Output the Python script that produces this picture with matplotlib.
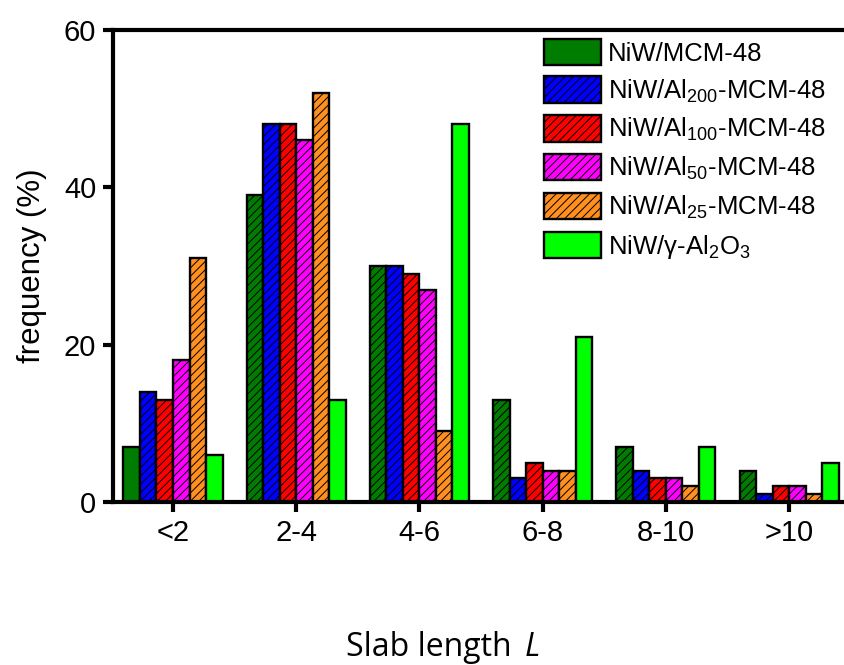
import numpy as np
import matplotlib.pyplot as plt

plt.rcParams['font.family'] = 'Liberation Sans'
plt.rcParams['mathtext.fontset'] = 'custom'
plt.rcParams['mathtext.rm'] = 'Liberation Sans'
plt.rcParams['mathtext.it'] = 'Liberation Sans:italic'
plt.rcParams['hatch.linewidth'] = 0.7

categories = ['<2', '2-4', '4-6', '6-8', '8-10', '>10']
series = ['NiW/MCM-48', 'NiW/Al$_{200}$-MCM-48', 'NiW/Al$_{100}$-MCM-48',
          'NiW/Al$_{50}$-MCM-48', 'NiW/Al$_{25}$-MCM-48', 'NiW/γ-Al$_2$O$_3$']
values = [
    [7, 39, 30, 13, 7, 4],
    [14, 48, 30, 3, 4, 1],
    [13, 48, 29, 5, 3, 2],
    [18, 46, 27, 4, 3, 2],
    [31, 52, 9, 4, 2, 1],
    [6, 13, 48, 21, 7, 5],
]
colors = ['#007c00', '#0000ff', '#ff0000', '#ff00ff', '#ff9020', '#00ff00']
hatches = ['////', '////', '////', '////', '////', None]

fig = plt.figure(figsize=(8.44, 6.65), dpi=100)
ax = fig.add_axes([113 / 844, 163 / 665, 757 / 844, 472 / 665])

x = np.arange(len(categories))
w = 0.134
for i, (name, vals) in enumerate(zip(series, values)):
    bars = ax.bar(x + (i - 2.5) * w, vals, w, color=colors[i], edgecolor='black',
                  linewidth=1.7, hatch=hatches[i], label=name)
    # first green bar in the original is plain
    if i == 0:
        bars[0].set_hatch(None)

handles, labels = ax.get_legend_handles_labels()
leg = ax.legend(handles, labels, loc='upper left', bbox_to_anchor=(0.556, 1.003),
                frameon=False, fontsize=18.5, handlelength=2.2, handleheight=1.2,
                labelspacing=0.42, handletextpad=0.28, borderaxespad=0)
leg.legend_handles[0].set_hatch(None)

ax.set_xlim(-0.487, 5.657)
ax.set_ylim(0, 60)
ax.set_yticks([0, 20, 40, 60])
ax.set_xticks(x)
ax.set_xticklabels(categories)
ax.tick_params(labelsize=21, width=3, length=7, direction='out', pad=5)
for s in ['left', 'bottom', 'top', 'right']:
    ax.spines[s].set_linewidth(3)
ax.set_ylabel('frequency (%)', fontsize=22.5, labelpad=12)

fig.text(346 / 844, 1 - 647 / 665, 'Slab length', family='Open Sans',
         fontsize=23, va='center', ha='left')
fig.text(525 / 844, 1 - 647 / 665, 'L', family='Open Sans', style='italic',
         fontsize=23, va='center', ha='left')

fig.savefig('out.png', dpi=100)
